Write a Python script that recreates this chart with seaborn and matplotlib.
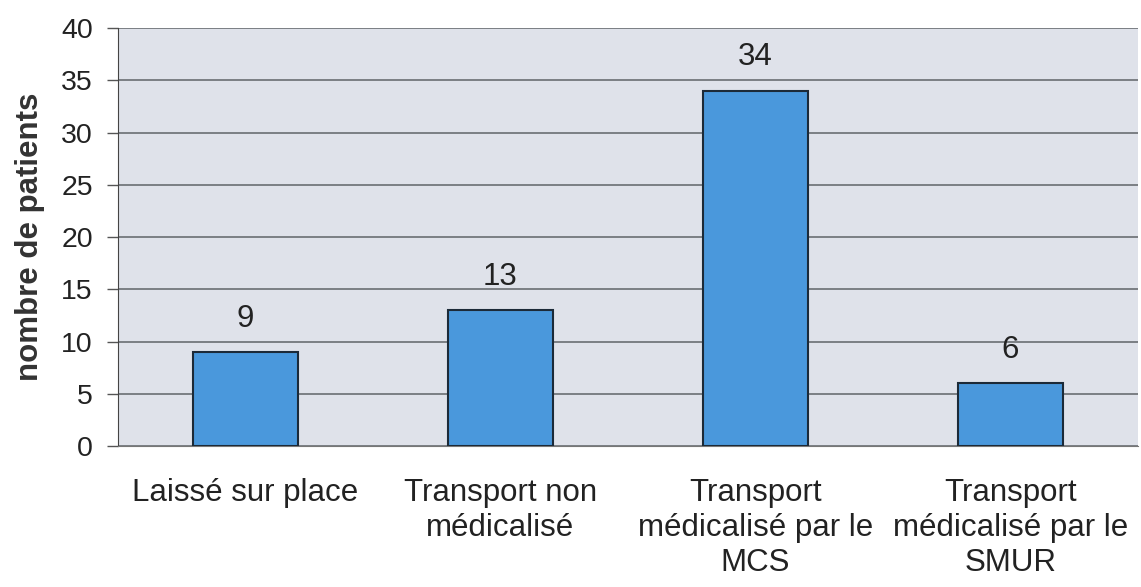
import matplotlib.pyplot as plt
import pandas as pd
import seaborn as sns

categories = ["Laissé sur place", "Transport non\nmédicalisé",
              "Transport\nmédicalisé par le\nMCS", "Transport\nmédicalisé par le\nSMUR"]
patients = [9, 13, 34, 6]

df = pd.DataFrame({"cat": categories, "n": patients})

sns.set_style("white")
plt.rcParams['font.family'] = ['Liberation Sans', 'DejaVu Sans']

fig = plt.figure(figsize=(11.41, 5.87), dpi=100)
ax = fig.add_axes([0.1034, 0.2402, 0.8940, 0.7121])
ax.set_facecolor("#dfe2ea")

sns.barplot(data=df, x="cat", y="n", color="#4a98dc", saturation=1,
            width=0.41, edgecolor="#1c2a38", linewidth=1.5, ax=ax, zorder=3)

ax.set_ylim(0, 40)
ax.set_xlim(-0.5, len(categories) - 0.5)
ax.set_yticks(range(0, 41, 5))
ax.yaxis.grid(True, color="#606468", linewidth=1.1, zorder=0)
ax.set_axisbelow(True)

# value labels above bars
for i, v in enumerate(patients):
    ax.text(i, v + 3.2, str(v), ha="center", va="center", fontsize=22.5, color="#222222")

# ticks between categories
ax.set_xticks(range(len(categories)))
ax.set_xticklabels(categories, fontsize=22.5, color="#222222", linespacing=1.22)
ax.tick_params(axis="x", which="major", length=0, pad=23)
ax.set_xticks([i - 0.5 for i in range(len(categories) + 1)], minor=True)
ax.tick_params(axis="x", which="minor", length=8, color="#555555", width=1)
ax.tick_params(axis="y", length=8, color="#555555", width=1, labelsize=20.5,
               labelcolor="#222222", left=True, pad=10)

for s in ["top", "right"]:
    ax.spines[s].set_visible(False)
ax.spines["left"].set_color("#444444")
ax.spines["bottom"].set_color("#777777")

ax.set_xlabel("")
ax.set_ylabel("nombre de patients", fontsize=22.5, fontweight="bold", color="#333333")
ax.yaxis.set_label_coords(-0.072, 0.5)

fig.savefig("out.png", dpi=100)
